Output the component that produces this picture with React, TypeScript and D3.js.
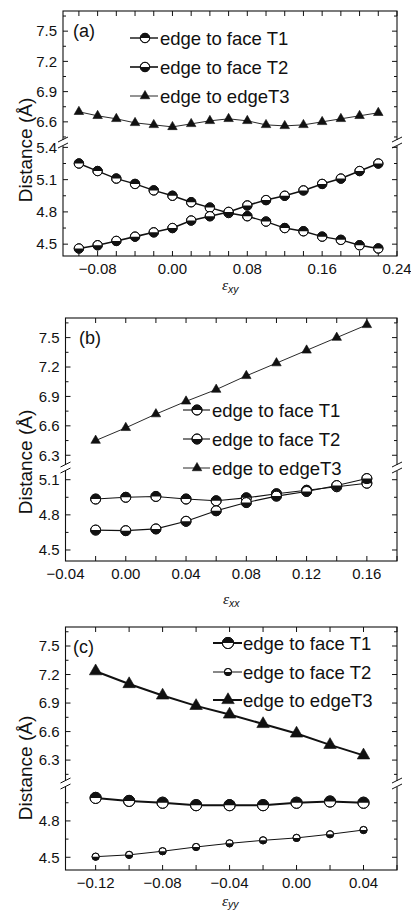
import React from "react";
import * as d3 from "d3";

// ---------- data ----------
const seriesNames = ["edge to face T1", "edge to face T2", "edge to edgeT3"];

// panel (a): strain e_xy
const xA = [-0.10, -0.08, -0.06, -0.04, -0.02, 0.00, 0.02, 0.04, 0.06, 0.08, 0.10, 0.12, 0.14, 0.16, 0.18, 0.20, 0.22];
const aT1 = [5.25, 5.18, 5.11, 5.06, 5.00, 4.95, 4.89, 4.84, 4.79, 4.76, 4.71, 4.65, 4.62, 4.57, 4.54, 4.49, 4.46];
const aT2 = [4.46, 4.49, 4.53, 4.57, 4.61, 4.65, 4.72, 4.76, 4.80, 4.86, 4.91, 4.95, 5.00, 5.06, 5.11, 5.18, 5.25];
const aT3 = [6.70, 6.66, 6.63, 6.59, 6.57, 6.55, 6.58, 6.61, 6.63, 6.61, 6.57, 6.56, 6.57, 6.60, 6.63, 6.66, 6.69];
const xTickLabelsA = [-0.08, 0.0, 0.08, 0.16, 0.24];

// panel (b): strain e_xx
const xB = [-0.02, 0.00, 0.02, 0.04, 0.06, 0.08, 0.10, 0.12, 0.14, 0.16];
const bT1 = [4.935, 4.95, 4.957, 4.935, 4.92, 4.945, 4.98, 5.01, 5.04, 5.07];
const bT2 = [4.67, 4.665, 4.68, 4.745, 4.835, 4.905, 4.96, 5.00, 5.05, 5.11];
const bT3 = [6.45, 6.58, 6.72, 6.85, 6.97, 7.11, 7.24, 7.37, 7.50, 7.63];
const xTickLabelsB = [-0.04, 0.0, 0.04, 0.08, 0.12, 0.16];

// panel (c): strain e_yy
const xC = [-0.12, -0.10, -0.08, -0.06, -0.04, -0.02, 0.00, 0.02, 0.04];
const cT1 = [4.99, 4.965, 4.95, 4.93, 4.93, 4.93, 4.95, 4.96, 4.95];
const cT2 = [4.505, 4.52, 4.55, 4.585, 4.615, 4.64, 4.66, 4.69, 4.725];
const cT3 = [7.235, 7.10, 6.98, 6.87, 6.78, 6.68, 6.58, 6.46, 6.35];
const xTickLabelsC = [-0.12, -0.08, -0.04, 0.0, 0.04];

// ---------- layout / style ----------
const FONT = "'Liberation Sans', Arial, sans-serif";
const INK = "#111";

type PanelCfg = {
  tag: string;
  sub: string;
  left: number; right: number; top: number; bottom: number;
  xDomain: [number, number];
  upper: { domain: [number, number]; range: [number, number] };
  lower: { domain: [number, number]; range: [number, number] };
  breakY: number;
  xs: number[];
  ys: number[][];
  xTickLabels: number[];
  legend: { x0: number; x1: number; mx: number; tx: number; rows: number[] };
  lineW: number[];
  markR: number[];
  triS: number;
  yLabelY: number;
  tagX: number; tagY: number;
  epsX: number; epsY: number;
};

const panels: PanelCfg[] = [
  {
    tag: "(a)", sub: "xy",
    left: 63, right: 397, top: 11, bottom: 256,
    xDomain: [-0.117, 0.24],
    upper: { domain: [6.40, 7.70], range: [142, 11] },
    lower: { domain: [4.39, 5.45], range: [256, 142] },
    breakY: 143,
    xs: xA, ys: [aT1, aT2, aT3], xTickLabels: xTickLabelsA,
    legend: { x0: 130, x1: 158, mx: 145, tx: 160, rows: [38, 67, 96] },
    lineW: [1.4, 1.6, 0.9], markR: [4.7, 4.7], triS: 9.5,
    yLabelY: 150, tagX: 73, tagY: 37, epsX: 222, epsY: 290,
  },
  {
    tag: "(b)", sub: "xx",
    left: 65.5, right: 397, top: 318, bottom: 561,
    xDomain: [-0.04, 0.18],
    upper: { domain: [6.17, 7.70], range: [468, 318] },
    lower: { domain: [4.406, 5.20], range: [561, 468] },
    breakY: 468,
    xs: xB, ys: [bT1, bT2, bT3], xTickLabels: xTickLabelsB,
    legend: { x0: 183, x1: 210, mx: 197, tx: 212, rows: [410, 439, 468] },
    lineW: [1.1, 1.1, 0.9], markR: [5, 5], triS: 9.5,
    yLabelY: 462, tagX: 79, tagY: 344, epsX: 223, epsY: 604,
  },
  {
    tag: "(c)", sub: "yy",
    left: 65.5, right: 397, top: 627, bottom: 870,
    xDomain: [-0.138, 0.06],
    upper: { domain: [6.08, 7.70], range: [781, 627] },
    lower: { domain: [4.395, 5.08], range: [870, 787] },
    breakY: 784,
    xs: xC, ys: [cT1, cT2, cT3], xTickLabels: xTickLabelsC,
    legend: { x0: 213, x1: 242, mx: 228, tx: 243, rows: [643, 672, 700] },
    lineW: [2, 1, 2], markR: [5.6, 3.6], triS: 12.5,
    yLabelY: 768, tagX: 73, tagY: 653, epsX: 222, epsY: 905.5,
  },
];

function HalfCircle({ cx, cy, r, topBlack }: { cx: number; cy: number; r: number; topBlack: boolean }) {
  const sweep = topBlack ? 1 : 0;
  const d = `M${cx - r},${cy} A${r},${r} 0 0 ${sweep} ${cx + r},${cy} Z`;
  return (
    <g>
      <circle cx={cx} cy={cy} r={r} fill="#fff" stroke={INK} strokeWidth={1} />
      <path d={d} fill={INK} />
      <circle cx={cx} cy={cy} r={r} fill="none" stroke={INK} strokeWidth={1} />
    </g>
  );
}

function Triangle({ cx, cy, s }: { cx: number; cy: number; s: number }) {
  const h = s * 0.866;
  const d = `M${cx},${cy - (2 * h) / 3} L${cx + s / 2},${cy + h / 3} L${cx - s / 2},${cy + h / 3} Z`;
  return <path d={d} fill={INK} stroke={INK} strokeWidth={0.6} />;
}

function Panel({ p }: { p: PanelCfg }) {
  const x = d3.scaleLinear().domain(p.xDomain).range([p.left, p.right]);
  const yU = d3.scaleLinear().domain(p.upper.domain).range(p.upper.range);
  const yL = d3.scaleLinear().domain(p.lower.domain).range(p.lower.range);
  const splitVal = (p.upper.domain[0] + p.lower.domain[1]) / 2;
  const y = (v: number) => (v > splitVal ? yU(v) : yL(v));

  const fmtX = d3.format(".2f");
  const fmtY = d3.format(".1f");

  const xt: number[] = d3
    .range(Math.ceil(p.xDomain[0] / 0.02 - 1e-6), Math.floor(p.xDomain[1] / 0.02 + 1e-6) + 1)
    .map((k) => k * 0.02);

  const segTicks = (dom: [number, number]) =>
    d3
      .range(Math.ceil((dom[0] * 100) / 15 - 1e-6), Math.floor((dom[1] * 100) / 15 + 1e-6) + 1)
      .map((k) => ({ v: (k * 15) / 100, major: k % 2 === 0 }));
  const uT = segTicks(p.upper.domain).map((t) => ({ ...t, py: yU(t.v) }));
  const lT = segTicks(p.lower.domain).map((t) => ({ ...t, py: yL(t.v) }));
  const yT = [...uT, ...lT];

  const line = d3
    .line<number>()
    .x((_, i) => x(p.xs[i]))
    .y((d) => y(d));

  const b = p.breakY;
  const breakMark = (ax: number) => (
    <g>
      <rect x={ax - 3} y={b - 3} width={6} height={6} fill="#fff" />
      <line x1={ax - 5} y1={b - 1} x2={ax + 5} y2={b - 6} stroke={INK} strokeWidth={1} />
      <line x1={ax - 5} y1={b + 5} x2={ax + 5} y2={b} stroke={INK} strokeWidth={1} />
    </g>
  );

  return (
    <g>
      <rect x={p.left} y={p.top} width={p.right - p.left} height={p.bottom - p.top} fill="none" stroke={INK} strokeWidth={1.1} />
      {xt.map((v, i) => (
        <g key={"xt" + i}>
          <line x1={x(v)} x2={x(v)} y1={p.bottom} y2={p.bottom - 5} stroke={INK} strokeWidth={1} />
          <line x1={x(v)} x2={x(v)} y1={p.top} y2={p.top + 5} stroke={INK} strokeWidth={1} />
        </g>
      ))}
      {p.xTickLabels.map((v, i) => (
        <text key={"xl" + i} x={x(v)} y={p.bottom + 18} textAnchor="middle" fontFamily={FONT} fontSize={15} fill={INK}>
          {fmtX(v)}
        </text>
      ))}
      {yT.map((t, i) => (
        <g key={"yt" + i}>
          <line x1={p.left} x2={p.left + (t.major ? 5 : 3)} y1={t.py} y2={t.py} stroke={INK} strokeWidth={1} />
          <line x1={p.right} x2={p.right - (t.major ? 5 : 3)} y1={t.py} y2={t.py} stroke={INK} strokeWidth={1} />
        </g>
      ))}
      {yT.filter((t) => t.major).map((t, i) => (
        <text key={"yl" + i} x={p.left - 6} y={t.py + 5.3} textAnchor="end" fontFamily={FONT} fontSize={15} fill={INK}>
          {fmtY(t.v)}
        </text>
      ))}
      {breakMark(p.left)}
      {breakMark(p.right)}

      <text
        transform={`translate(32,${p.yLabelY}) rotate(-90)`}
        textAnchor="middle"
        fontFamily={FONT}
        fontSize={19}
        fill={INK}
      >
        Distance (Å)
      </text>
      <text x={p.epsX} y={p.epsY} fontFamily="'Liberation Serif', 'DejaVu Serif', serif" fontStyle="italic" fontSize={15.5} fill={INK}>
        ε
        <tspan fontFamily={FONT} fontSize={10.5} dy={2.5}>
          {p.sub}
        </tspan>
      </text>
      <text x={p.tagX} y={p.tagY} fontFamily={FONT} fontSize={18} fill={INK}>
        {p.tag}
      </text>

      {p.ys.map((s, si) => (
        <path key={"ln" + si} d={line(s) || ""} fill="none" stroke={INK} strokeWidth={p.lineW[si]} />
      ))}
      {p.ys[2].map((v, i) => (
        <Triangle key={"tr" + i} cx={x(p.xs[i])} cy={y(v)} s={p.triS} />
      ))}
      {p.ys[0].map((v, i) => (
        <HalfCircle key={"c1" + i} cx={x(p.xs[i])} cy={y(v)} r={p.markR[0]} topBlack={true} />
      ))}
      {p.ys[1].map((v, i) => (
        <HalfCircle key={"c2" + i} cx={x(p.xs[i])} cy={y(v)} r={p.markR[1]} topBlack={false} />
      ))}

      {seriesNames.map((name, si) => {
        const ry = p.legend.rows[si];
        return (
          <g key={"lg" + si}>
            <line x1={p.legend.x0} x2={p.legend.x1} y1={ry} y2={ry} stroke={INK} strokeWidth={p.lineW[si]} />
            {si === 2 ? (
              <Triangle cx={p.legend.mx} cy={ry} s={p.triS} />
            ) : (
              <HalfCircle cx={p.legend.mx} cy={ry} r={p.markR[si]} topBlack={si === 0} />
            )}
            <text x={p.legend.tx} y={ry + 6.5} fontFamily={FONT} fontSize={18.5} fill={INK}>
              {name}
            </text>
          </g>
        );
      })}
    </g>
  );
}

export default function App() {
  return (
    <svg
      width={411}
      height={910}
      viewBox="0 0 411 910"
      style={{ position: "absolute", left: 0, top: 0, display: "block", background: "#fff" }}
    >
      <rect x={0} y={0} width={411} height={910} fill="#fff" />
      {panels.map((p, i) => (
        <Panel key={i} p={p} />
      ))}
    </svg>
  );
}
